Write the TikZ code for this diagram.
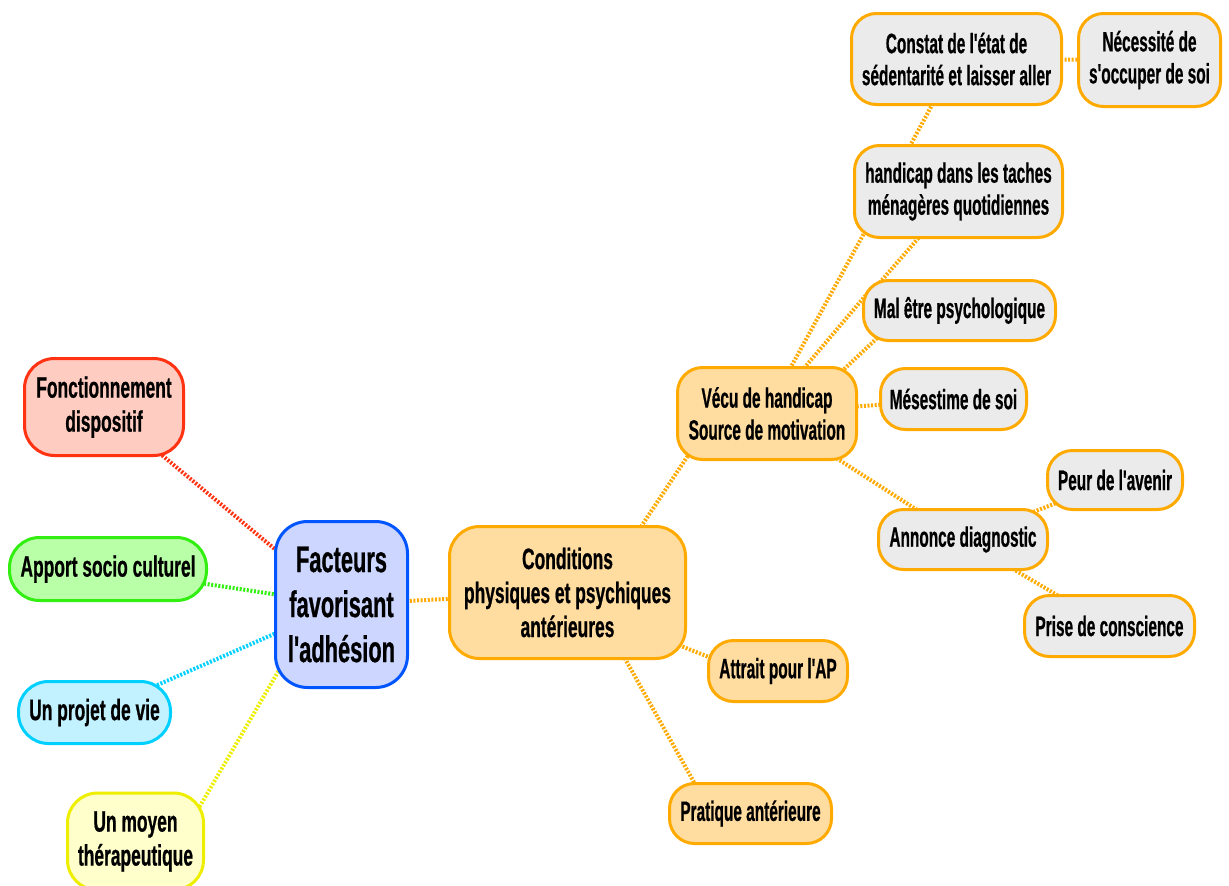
\documentclass[tikz,border=0pt]{standalone}
\usepackage{fontspec}
\setmainfont[FakeStretch=0.59,FakeBold=0.6,Ligatures=TeXOff]{Liberation Sans}
\newfontfamily\narrowf[FakeStretch=0.55,FakeBold=0.6,Ligatures=TeXOff]{Liberation Sans}
\usetikzlibrary{calc}
\pgfdeclarelayer{background}
\pgfsetlayers{background,main}
\definecolor{redB}{HTML}{FF3311}
\definecolor{redF}{HTML}{FFCCC2}
\definecolor{greenB}{HTML}{33EE11}
\definecolor{greenF}{HTML}{B8FFA8}
\definecolor{cyanB}{HTML}{00D0FF}
\definecolor{cyanF}{HTML}{C2F2FF}
\definecolor{yellowB}{HTML}{EEEE00}
\definecolor{yellowF}{HTML}{FFFFCC}
\definecolor{blueB}{HTML}{0055FF}
\definecolor{blueF}{HTML}{CCD6FF}
\definecolor{orB}{HTML}{FFAA00}
\definecolor{orF}{HTML}{FFDCA0}
\definecolor{greyF}{HTML}{EBEBEB}
\tikzset{
  box/.style={rounded corners=25pt, line width=3pt, align=center, inner sep=0pt,
    font=\narrowf\bfseries\fontsize{28}{32}\selectfont},
  midbox/.style={box, rounded corners=30pt, font=\bfseries\fontsize{29.5}{34}\selectfont},
  bigbox/.style={box, rounded corners=32pt, font=\bfseries\fontsize{37}{45}\selectfont},
  orbox/.style={box, draw=orB, fill=orF},
  greybox/.style={box, draw=orB, fill=greyF},
  conn/.style={line width=4pt, dash pattern=on 2pt off 1.6pt},
  sz/.style 2 args={minimum width=#1pt, minimum height=#2pt},
}
\begin{document}
\begin{tikzpicture}[x=1pt,y=-1pt]
\useasboundingbox (0,0) rectangle (1229,886);
% centre
\node[bigbox, draw=blueB, fill=blueF, sz={132}{166}] (fact) at (341.5,604.5) {Facteurs\\favorisant\\l'adhésion};
% left branches
\node[midbox, draw=redB, fill=redF, sz={159}{97}] (fonc) at (104,407) {Fonctionnement\\dispositif};
\node[midbox, draw=greenB, fill=greenF, sz={197}{63}] (apport) at (108,569) {Apport socio culturel};
\node[midbox, draw=cyanB, fill=cyanF, sz={152}{62}] (projet) at (94.5,712.5) {Un projet de vie};
\node[midbox, draw=yellowB, fill=yellowF, sz={136}{97}] (moyen) at (135.5,841.5) {Un moyen\\thérapeutique};
% right branch
\node[midbox, draw=orB, fill=orF, sz={236}{132}] (cond) at (567.5,592.5) {Conditions\\physiques et psychiques\\antérieures};
\node[orbox, sz={179}{92}] (vecu) at (767,413.5) {Vécu de handicap\\Source de motivation};
\node[orbox, sz={139}{61}] (attrait) at (778,671) {Attrait pour l'AP};
\node[orbox, sz={162}{60}] (prat) at (750.5,813.5) {Pratique antérieure};
\node[greybox, sz={210}{91}] (constat) at (956.5,59) {Constat de l'état de\\sédentarité et laisser aller};
\node[greybox, sz={142}{93}] (necess) at (1149.5,60) {Nécessité de\\s'occuper de soi};
\node[greybox, sz={208}{92}] (handi) at (958.5,191.5) {handicap dans les taches\\ménagères quotidiennes};
\node[greybox, sz={192}{60}] (mal) at (959.5,310.5) {Mal être psychologique};
\node[greybox, sz={146}{61}] (mese) at (953.5,399) {Mésestime de soi};
\node[greybox, sz={135}{59}] (peur) at (1115,480) {Peur de l'avenir};
\node[greybox, sz={169}{60}] (annonce) at (963,539.5) {Annonce diagnostic};
\node[greybox, sz={170}{61}] (prise) at (1109.5,626) {Prise de conscience};
\begin{pgfonlayer}{background}
\draw[conn, draw=redB] (fonc.center) -- (fact.center);
\draw[conn, draw=greenB] (apport.center) -- (fact.center);
\draw[conn, draw=cyanB] (projet.center) -- (fact.center);
\draw[conn, draw=yellowB] ([shift={(58.7,-25.5)}]moyen.center) -- ([shift={(-56,54.5)}]fact.center);
\draw[conn, draw=orB] (fact.center) -- (cond.center);
\draw[conn, draw=orB] ([shift={(67.5,-56.7)}]cond.center) -- ([shift={(-73.7,34)}]vecu.center);
\draw[conn, draw=orB] ([shift={(101.5,48.7)}]cond.center) -- ([shift={(-56,-8.7)}]attrait.center);
\draw[conn, draw=orB] ([shift={(51.9,56.1)}]cond.center) -- ([shift={(-50.5,-20.5)}]prat.center);
\draw[conn, draw=orB] (vecu.center) -- (mese.center);
\draw[conn, draw=orB] (vecu.center) -- (annonce.center);
\draw[conn, draw=orB] (annonce.center) -- (peur.center);
\draw[conn, draw=orB] (annonce.center) -- (prise.center);
\draw[conn, draw=orB] (constat.center) -- (necess.center);
\draw[conn, draw=orB] ([shift={(-54,-35.5)}]handi.center) -- ([shift={(-18,34)}]constat.center);
\draw[conn, draw=orB] ([shift={(17.8,-35.3)}]vecu.center) -- ([shift={(-89.3,32.3)}]handi.center);
\draw[conn, draw=orB] ([shift={(30,-37)}]vecu.center) -- ([shift={(-88,-22)}]mal.center);
\draw[conn, draw=orB] ([shift={(69.3,-37)}]vecu.center) -- ([shift={(-77.5,23)}]mal.center);
\draw[conn, draw=orB] ([shift={(-35.2,41)}]handi.center) -- ([shift={(-84,-23)}]mal.center);
\end{pgfonlayer}
\end{tikzpicture}
\end{document}
